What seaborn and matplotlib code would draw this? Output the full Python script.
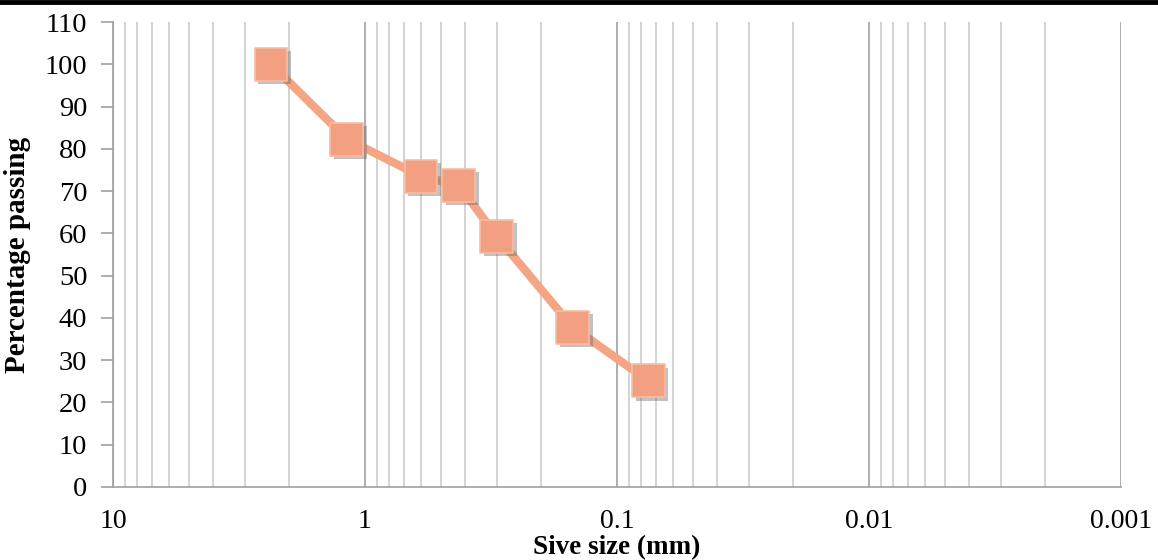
import numpy as np
import pandas as pd
import matplotlib
matplotlib.use("Agg")
import matplotlib.pyplot as plt
import matplotlib.patheffects as pe
from matplotlib.ticker import LogLocator, FixedLocator, FixedFormatter, NullFormatter
import seaborn as sns

# sieve analysis data
sieve_mm = [2.36, 1.18, 0.6, 0.425, 0.3, 0.15, 0.075]
passing = [100, 82.3, 73.5, 71.4, 59.3, 37.8, 25.1]
x_ticks = [10, 1, 0.1, 0.01, 0.001]
x_tick_labels = ["10", "1", "0.1", "0.01", "0.001"]
y_ticks = list(range(0, 111, 10))

df = pd.DataFrame({"size": sieve_mm, "passing": passing})

sns.set_style("white", {"text.color": "black", "axes.labelcolor": "black",
                        "xtick.color": "black", "ytick.color": "black"})
plt.rcParams["font.family"] = ["Liberation Serif", "DejaVu Serif"]

fig = plt.figure(figsize=(11.58, 5.6), dpi=100)
ax = fig.add_axes([0.0976, 0.1304, 0.8705, 0.8303])

line_col = "#F4A583"
sns.lineplot(data=df, x="size", y="passing", ax=ax, color=line_col, lw=6,
             sort=False, zorder=3)
sns.scatterplot(data=df, x="size", y="passing", ax=ax, marker="s", s=560,
                color="#F2A081", edgecolor="#F9BCA0", linewidth=1.2, zorder=4,
                path_effects=[pe.SimplePatchShadow(offset=(2.5, -2.5), shadow_rgbFace="#666666", alpha=0.4),
                              pe.Normal()])

ax.set_xscale("log")
ax.set_xlim(10, 0.001)
ax.set_ylim(0, 110)

ax.xaxis.set_major_locator(FixedLocator(x_ticks))
ax.xaxis.set_major_formatter(FixedFormatter(x_tick_labels))
ax.xaxis.set_minor_locator(LogLocator(base=10, subs=np.arange(2, 10)))
ax.xaxis.set_minor_formatter(NullFormatter())
ax.set_yticks(y_ticks)

ax.grid(False)
ax.grid(axis="x", which="major", color="#A8A8A8", lw=1.3, zorder=0)
ax.grid(axis="x", which="minor", color="#C8C8C8", lw=1.1, zorder=0)

for s in ["top", "right"]:
    ax.spines[s].set_visible(False)
ax.spines["left"].set_color("#A0A0A0")
ax.spines["bottom"].set_color("#A0A0A0")
ax.spines["left"].set_linewidth(1.2)
ax.spines["bottom"].set_linewidth(1.2)

ax.tick_params(axis="y", which="major", direction="out", length=8.5, width=1.2,
               color="#A0A0A0", labelcolor="black", labelsize=20.5, pad=10, left=True)
ax.tick_params(axis="x", which="both", length=0, labelcolor="black", labelsize=20, pad=16)

ax.set_xlabel("Sive size (mm)", fontsize=19.5, fontweight="bold", labelpad=1, color="black")
ax.set_ylabel("Percentage passing", fontsize=21, fontweight="bold", labelpad=10, color="black")

# black rule along the top of the page
fig.add_artist(plt.Line2D([0, 1], [0.997, 0.997], color="black", lw=3.5,
                          transform=fig.transFigure))

fig.savefig("out.png", dpi=100)
